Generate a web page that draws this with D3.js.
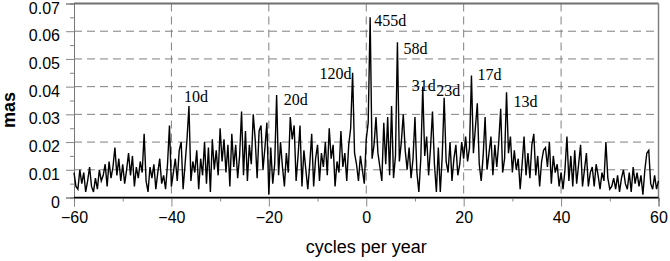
<!DOCTYPE html>
<html>
<head>
<meta charset="UTF-8">
<title>Spectrum</title>
<script src="https://d3js.org/d3.v7.min.js"></script>
<style>
  body { margin: 0; background: #fff; }
  svg text { font-family: "Liberation Sans", Arial, sans-serif; }
  svg text.peak { font-family: "Liberation Serif", "Times New Roman", serif; }
</style>
</head>
<body>
<div id="chart"></div>
<script type="text/javascript">

// spectrum amplitude (mas), sampled every 0.4 cycles/year from -60 to 60
const freqStart = -60, freqStep = 0.4;
const power = [
  0.009,0.004,0.003,0.010,0.005,0.009,0.002,0.006,0.011,0.004,0.002,0.007,0.003,0.010,0.006,0.008,0.012,0.004,0.013,0.007,0.011,0.018,0.008,0.014,0.006,0.012,
  0.005,0.010,0.016,0.008,0.015,0.004,0.011,0.007,0.013,0.009,0.023,0.006,0.002,0.011,0.007,0.012,0.003,0.009,0.014,0.005,0.008,0.003,0.012,0.026,0.004,
  0.009,0.014,0.006,0.017,0.020,0.003,0.012,0.021,0.033,0.006,0.013,0.009,0.017,0.003,0.014,0.008,0.020,0.005,0.018,0.002,0.021,0.010,0.017,0.008,0.025,
  0.013,0.021,0.009,0.019,0.004,0.023,0.011,0.019,0.007,0.015,0.031,0.008,0.024,0.006,0.019,0.012,0.030,0.021,0.007,0.024,0.026,0.010,0.018,0.027,0.001,
  0.018,0.005,0.012,0.037,0.008,0.020,0.011,0.004,0.016,0.009,0.029,0.021,0.026,0.006,0.015,0.026,0.004,0.017,0.010,0.003,0.012,0.023,0.004,0.014,0.019,
  0.006,0.016,0.011,0.020,0.008,0.025,0.014,0.019,0.004,0.013,0.009,0.024,0.011,0.016,0.006,0.019,0.025,0.045,0.016,0.012,0.006,0.015,0.010,0.005,0.021,
  0.027,0.065,0.014,0.019,0.029,0.016,0.011,0.006,0.027,0.012,0.029,0.008,0.033,0.007,0.015,0.056,0.013,0.020,0.030,0.017,0.010,0.018,0.007,0.014,0.029,
  0.009,0.002,0.014,0.040,0.015,0.022,0.008,0.018,0.031,0.012,0.002,0.018,0.002,0.015,0.036,0.013,0.009,0.020,0.006,0.014,0.019,0.008,0.012,0.020,0.014,
  0.022,0.013,0.018,0.044,0.016,0.025,0.034,0.012,0.006,0.015,0.029,0.010,0.016,0.022,0.008,0.019,0.011,0.020,0.032,0.009,0.014,0.038,0.016,0.022,0.009,
  0.017,0.010,0.014,0.003,0.012,0.022,0.008,0.016,0.007,0.019,0.023,0.008,0.015,0.004,0.013,0.017,0.018,0.011,0.020,0.005,0.015,0.009,0.012,0.004,0.009,
  0.003,0.010,0.022,0.006,0.015,0.004,0.017,0.005,0.012,0.019,0.004,0.010,0.016,0.004,0.009,0.011,0.004,0.012,0.008,0.003,0.009,0.006,0.020,0.007,0.003,
  0.004,0.007,0.003,0.008,0.002,0.007,0.010,0.005,0.003,0.009,0.002,0.011,0.005,0.009,0.004,0.008,0.001,0.010,0.016,0.017,0.005,0.003,0.008,0.003,0.006
];

// labelled peaks (period) and the frequency where they sit
const peakNames = ["10d", "20d", "120d", "455d", "58d", "31d", "23d", "17d", "13d"];
const peakFreqs = [-36.4, -18.4, -2.8, 0.8, 6.4, 11.6, 16.0, 21.6, 28.8];

const xTicks = [-60, -40, -20, 0, 20, 40, 60];
const yTicks = [0, 0.01, 0.02, 0.03, 0.04, 0.05, 0.06, 0.07];

// label placement relative to its peak
const labelLayout = [
  { dx: 7, dy: -4, anchor: "middle" },
  { dx: 7, dy: 10, anchor: "start" },
  { dx: -1, dy: 6, anchor: "end" },
  { dx: 4, dy: 9, anchor: "start" },
  { dx: 6, dy: 12, anchor: "start" },
  { dx: 1, dy: 4, anchor: "middle" },
  { dx: 4, dy: -2, anchor: "middle" },
  { dx: 6, dy: 4, anchor: "start" },
  { dx: 7, dy: 15, anchor: "start" }
];

const W = 670, H = 261;
const margin = { left: 74, right: 11.5, top: 3.5, bottom: 63.5 };
const pw = W - margin.left - margin.right;
const ph = H - margin.top - margin.bottom;

const svg = d3.select("#chart").append("svg")
  .attr("width", W).attr("height", H);

const g = svg.append("g").attr("transform", `translate(${margin.left},${margin.top})`);

const x = d3.scaleLinear().domain([-60, 60]).range([0, pw]);
const y = d3.scaleLinear().domain([0, 0.07]).range([ph, 0]);

const freqs = power.map((d, i) => freqStart + i * freqStep);

// grid
g.append("g").selectAll("line")
  .data(yTicks.slice(1, -1))
  .join("line")
  .attr("x1", 0).attr("x2", pw)
  .attr("y1", d => y(d)).attr("y2", d => y(d))
  .attr("stroke", "#808080").attr("stroke-width", 1)
  .attr("stroke-dasharray", "8,5");

g.append("g").selectAll("line")
  .data(xTicks.slice(1, -1))
  .join("line")
  .attr("y1", 0).attr("y2", ph)
  .attr("x1", d => x(d)).attr("x2", d => x(d))
  .attr("stroke", "#808080").attr("stroke-width", 1)
  .attr("stroke-dasharray", "8,5");

// frame
g.append("line").attr("x1", 0).attr("x2", pw).attr("y1", 0).attr("y2", 0)
  .attr("stroke", "#707070").attr("stroke-width", 2);
g.append("line").attr("x1", pw).attr("x2", pw).attr("y1", 0).attr("y2", ph)
  .attr("stroke", "#808080").attr("stroke-width", 1.5);

// axes
const yAxis = d3.axisLeft(y).tickValues(yTicks)
  .tickFormat(d => d === 0 ? "0" : d3.format(".2f")(d))
  .tickSize(8).tickPadding(6);
const yMinor = d3.axisLeft(y).tickValues(d3.range(0.005, 0.07, 0.01))
  .tickFormat("").tickSize(4);
const xAxis = d3.axisBottom(x).tickValues(xTicks).tickSize(9).tickPadding(5);
const xMinor = d3.axisBottom(x).tickValues(d3.range(-50, 60, 20))
  .tickFormat("").tickSize(4);

const yg = g.append("g").call(yAxis);
g.append("g").call(yMinor);
const xg = g.append("g").attr("transform", `translate(0,${ph})`).call(xAxis);
g.append("g").attr("transform", `translate(0,${ph})`).call(xMinor);

g.selectAll(".domain").attr("stroke", "#777");
g.selectAll(".tick line").attr("stroke", "#888");
yg.selectAll("text").attr("font-size", 16).attr("fill", "#000").attr("dy", "0.6em");
xg.selectAll("text").attr("font-size", 16).attr("fill", "#000");

// the spectrum
const line = d3.line().x((d, i) => x(freqs[i])).y(d => y(d));
g.append("path")
  .datum(power)
  .attr("d", line)
  .attr("fill", "none")
  .attr("stroke", "#000")
  .attr("stroke-width", 1.4)
  .attr("stroke-linejoin", "miter");

// bottom axis line drawn over everything
g.append("line").attr("x1", 0).attr("x2", pw).attr("y1", ph).attr("y2", ph)
  .attr("stroke", "#000").attr("stroke-width", 1.5);

// peak labels
g.append("g").selectAll("text")
  .data(peakNames)
  .join("text")
  .attr("class", "peak")
  .attr("x", (d, i) => x(peakFreqs[i]) + labelLayout[i].dx)
  .attr("y", (d, i) => y(power[Math.round((peakFreqs[i] - freqStart) / freqStep)]) + labelLayout[i].dy)
  .attr("text-anchor", (d, i) => labelLayout[i].anchor)
  .attr("font-size", 16)
  .text(d => d);

// axis titles
svg.append("text")
  .attr("x", margin.left + x(0))
  .attr("y", 253)
  .attr("text-anchor", "middle")
  .attr("font-size", 18)
  .text("cycles per year");

svg.append("text")
  .attr("transform", "translate(15,110) rotate(-90)")
  .attr("text-anchor", "middle")
  .attr("font-size", 18)
  .attr("font-weight", "bold")
  .text("mas");

</script>
</body>
</html>
